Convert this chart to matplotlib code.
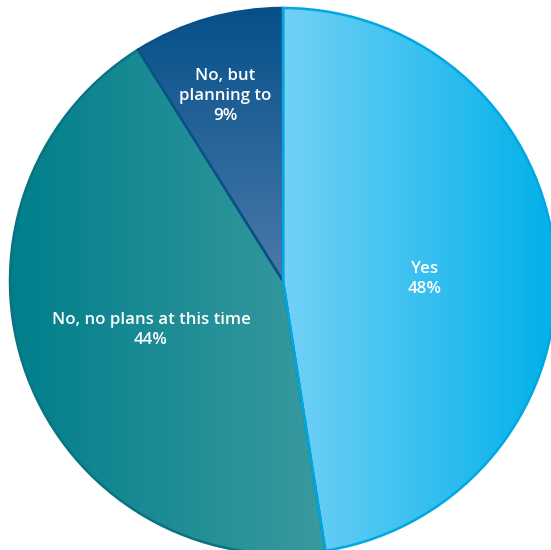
import matplotlib
matplotlib.use("Agg")
import matplotlib.pyplot as plt
from matplotlib.colors import LinearSegmentedColormap
import numpy as np

labels = ["Yes", "No, no plans at this time", "No, but\nplanning to"]
values = [48, 44, 9]
pct_text = ["48%", "44%", "9%"]

# gradient (start, end, direction) and edge colour for each slice
grads = [("#72d1f6", "#00b0ea", "h"),
         ("#007f8b", "#3a9a9f", "h"),
         ("#05508a", "#4c7aaa", "v")]
edges = ["#00a8e2", "#0a7381", "#0b4f86"]
label_pos = [(425, 279), (151, 330), (225, 96)]

W, H = 551, 550
fig = plt.figure(figsize=(W / 100, H / 100), dpi=100)
ax = fig.add_axes([0, 0, 1, 1])

cx, cy, r = 283, H - 281, 273
wedges, _ = ax.pie(values, startangle=90, counterclock=False,
                   center=(cx, cy), radius=r,
                   wedgeprops=dict(linewidth=0))

for w, (c0, c1, d), ec in zip(wedges, grads, edges):
    cmap = LinearSegmentedColormap.from_list("g", [c0, c1])
    ext = w.get_path().get_extents(w.get_transform() - ax.transData)
    if d == "h":
        grad = np.linspace(0, 1, 256)[None, :]
    else:
        grad = np.linspace(0, 1, 256)[:, None]
    im = ax.imshow(grad, cmap=cmap, aspect="auto", origin="upper",
                   extent=(ext.x0, ext.x1, ext.y0, ext.y1), zorder=1)
    im.set_clip_path(w)
    w.set_facecolor("none")
    w.set_edgecolor(ec)
    w.set_linewidth(1.8)
    w.set_zorder(2)

# keep the light-blue outline of "Yes" on top
wedges[0].set_zorder(3)

for lab, pct, (x, y) in zip(labels, pct_text, label_pos):
    ax.text(x, H - y, lab + "\n" + pct, ha="center", va="center",
            color="white", fontsize=12.2, family="Open Sans",
            fontweight="semibold", linespacing=1.33, zorder=4)

ax.set_xlim(0, W)
ax.set_ylim(0, H)
ax.set_aspect("equal")
ax.axis("off")
fig.savefig("out.png", dpi=100)
